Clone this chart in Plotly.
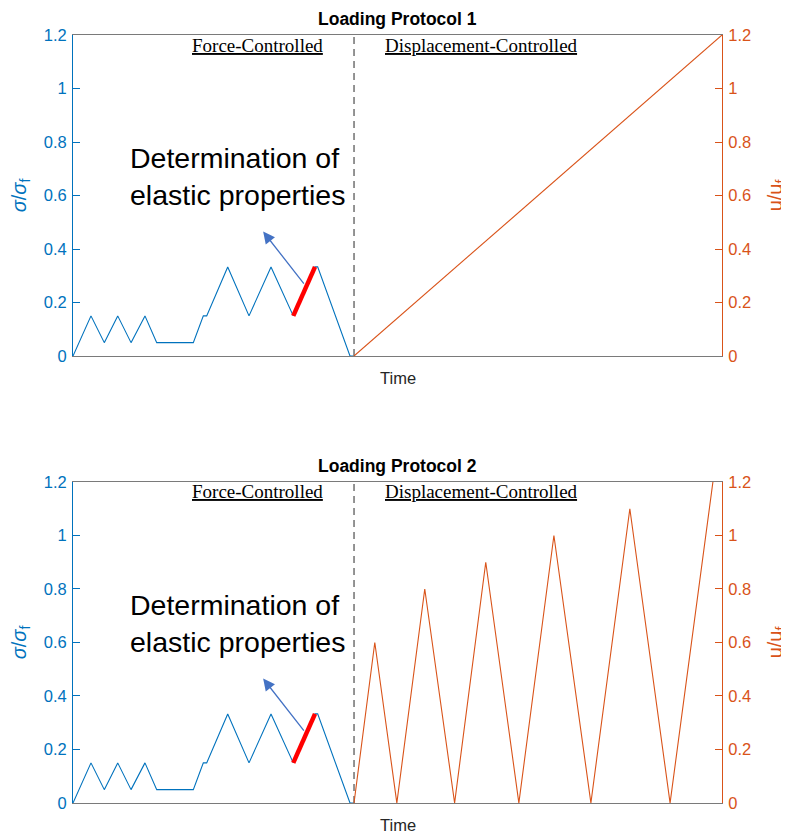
import plotly.graph_objects as go

# ---------------- data ----------------
force_t = [0, 2.77, 4.82, 6.89, 8.94, 11.09, 12.90, 18.54, 20.08, 20.60,
           23.84, 27.12, 30.51, 33.94, 37.29, 37.70, 42.68, 43.2]
force_y = [0, 0.15, 0.05, 0.15, 0.05, 0.15, 0.05, 0.05, 0.15, 0.15,
           0.333, 0.15, 0.333, 0.15, 0.333, 0.333, 0, 0]

elastic_t = [33.94, 37.29]
elastic_y = [0.15, 0.333]

disp1_t = [43.3, 100]
disp1_y = [0, 1.2]

disp2_t = [43.3, 46.5, 49.9, 54.2, 58.8, 63.6, 68.7, 74.1, 79.8, 85.8, 92.0, 98.6]
disp2_y = [0, 0.6, 0, 0.8, 0, 0.9, 0, 1.0, 0, 1.1, 0, 1.2]

switch_t = [43.3, 43.3]
switch_y = [0, 1.2]

yticks = [0, 0.2, 0.4, 0.6, 0.8, 1.0, 1.2]
ytick_labels = ["0", "0.2", "0.4", "0.6", "0.8", "1", "1.2"]

titles = ["Loading Protocol 1", "Loading Protocol 2"]

# ---------------- styles ----------------
BLUE = "#0072BD"
ORANGE = "#D95319"
AXGRAY = "#7a7a7a"
SANS = "Liberation Sans, Arial, sans-serif"
SERIF = "Liberation Serif, Times New Roman, serif"

fig = go.Figure()

panels = [
    dict(x="x", yl="y", yr="y2", disp_t=disp1_t, disp_y=disp1_y),
    dict(x="x2", yl="y3", yr="y4", disp_t=disp2_t, disp_y=disp2_y),
]

for p in panels:
    fig.add_trace(go.Scatter(x=force_t, y=force_y, mode="lines",
                             line=dict(color=BLUE, width=1.1),
                             xaxis=p["x"], yaxis=p["yl"], showlegend=False))
    fig.add_trace(go.Scatter(x=elastic_t, y=elastic_y, mode="lines",
                             line=dict(color="#FF0000", width=4.5),
                             xaxis=p["x"], yaxis=p["yl"], showlegend=False))
    fig.add_trace(go.Scatter(x=switch_t, y=switch_y, mode="lines",
                             line=dict(color="#4d4d4d", width=1.2, dash="7px,5px"),
                             xaxis=p["x"], yaxis=p["yl"], showlegend=False))
    fig.add_trace(go.Scatter(x=p["disp_t"], y=p["disp_y"], mode="lines",
                             line=dict(color=ORANGE, width=1.1),
                             xaxis=p["x"], yaxis=p["yr"], showlegend=False))

dom_top = [0.58203, 1.0]
dom_bot = [0.0, 0.41797]

xcommon = dict(range=[0, 100], showgrid=False, zeroline=False, showticklabels=False,
               ticks="", showline=True, linecolor=AXGRAY, linewidth=1, mirror=True,
               automargin=False)
ylcommon = dict(range=[0, 1.2], tickvals=yticks, ticktext=ytick_labels,
                showgrid=False, zeroline=False, showline=True, linecolor=BLUE,
                linewidth=1, ticks="inside", ticklen=7, tickcolor=BLUE,
                automargin=False, ticklabelstandoff=2,
                tickfont=dict(family=SANS, size=16.5, color=BLUE),
                title=dict(text="<i>σ</i>/<i>σ</i><sub>f</sub>",
                           font=dict(family=SANS, size=20, color=BLUE), standoff=12))
yrcommon = dict(range=[0, 1.2], tickvals=yticks, ticktext=ytick_labels,
                showgrid=False, zeroline=False, showline=True, linecolor=ORANGE,
                linewidth=1, ticks="inside", ticklen=7, tickcolor=ORANGE, side="right",
                automargin=False, ticklabelstandoff=2,
                tickfont=dict(family=SANS, size=16.5, color=ORANGE),
                title=dict(text="u/u<sub>f</sub>",
                           font=dict(family=SANS, size=20, color=ORANGE), standoff=19))

# page body adds an 8px offset, so the figure is sized to fit the 789x833 window
fig.update_layout(
    width=781, height=825,
    margin=dict(l=65, r=67, t=27, b=30, autoexpand=False),
    plot_bgcolor="white", paper_bgcolor="white",
    xaxis=dict(domain=[0, 1], anchor="y", **xcommon),
    xaxis2=dict(domain=[0, 1], anchor="y3", **xcommon),
    yaxis=dict(domain=dom_top, anchor="x", **ylcommon),
    yaxis2=dict(domain=dom_top, anchor="x", overlaying="y", **yrcommon),
    yaxis3=dict(domain=dom_bot, anchor="x2", **ylcommon),
    yaxis4=dict(domain=dom_bot, anchor="x2", overlaying="y3", **yrcommon),
)

annotations = []
for i, (xr, yr) in enumerate([("x", "y"), ("x2", "y3")]):
    annotations.append(dict(text="<b>%s</b>" % titles[i], xref=xr + " domain", yref=yr + " domain",
                            x=0.5, y=1, xanchor="center", yanchor="middle", yshift=16,
                            showarrow=False, font=dict(family=SANS, size=17.5, color="black")))
    annotations.append(dict(text="Time", xref=xr + " domain", yref=yr + " domain",
                            x=0.5, y=0, xanchor="center", yanchor="middle", yshift=-22,
                            showarrow=False, font=dict(family=SANS, size=16.5, color="#262626")))
    annotations.append(dict(text="<u>Force-Controlled</u>", xref=xr, yref=yr,
                            x=28.43, y=1.2, xanchor="center", yanchor="middle", yshift=-10,
                            showarrow=False, font=dict(family=SERIF, size=19, color="black")))
    annotations.append(dict(text="<u>Displacement-Controlled</u>", xref=xr, yref=yr,
                            x=62.94, y=1.2, xanchor="center", yanchor="middle", yshift=-10,
                            showarrow=False, font=dict(family=SERIF, size=19, color="black")))
    annotations.append(dict(text="Determination of<br>elastic properties", xref=xr, yref=yr,
                            x=8.4, y=0.67, xanchor="left", yanchor="middle", align="left",
                            showarrow=False, font=dict(family=SANS, size=28.5, color="black")))
    annotations.append(dict(text="", xref=xr, yref=yr, axref=xr, ayref=yr,
                            x=29.3, y=0.465, ax=35.75, ay=0.265,
                            showarrow=True, arrowhead=2, arrowsize=1.8, arrowwidth=1.3,
                            arrowcolor="#4472C4"))
fig.update_layout(annotations=annotations)

fig.write_html("out.html")
